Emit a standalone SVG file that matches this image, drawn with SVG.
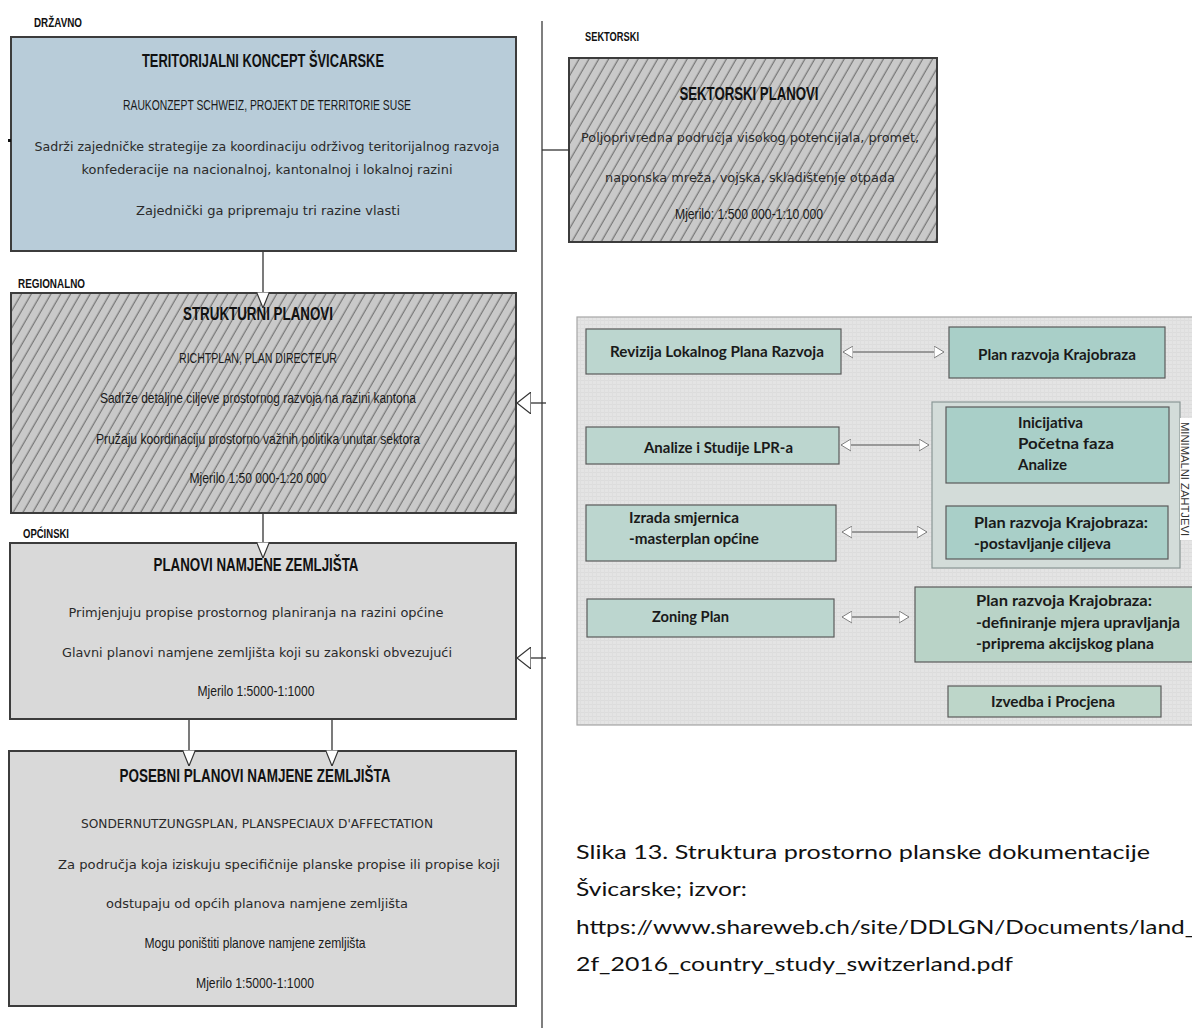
<svg xmlns="http://www.w3.org/2000/svg" width="1192" height="1033" viewBox="0 0 1192 1033">
<style>
.lvl{font-family:"Liberation Sans Narrow","Liberation Sans",sans-serif;font-weight:bold;font-size:12px;fill:#111}
.ttl{font-family:"Liberation Sans Narrow","Liberation Sans",sans-serif;font-weight:bold;font-size:18px;fill:#111;text-anchor:middle}
.cnd{font-family:"Liberation Sans Narrow","Liberation Sans",sans-serif;font-size:15px;fill:#1a1a1a;text-anchor:middle}
.rnd{font-family:"DejaVu Sans","Liberation Sans",sans-serif;font-size:13px;fill:#2a2a2a;text-anchor:middle}
.box{stroke:#3c3c3c;stroke-width:2}
.pbox{stroke:#5a5a5a;stroke-width:1.2}
.ptx{font-family:Lato,"Liberation Sans",sans-serif;font-weight:bold;font-size:15px;fill:#1a1a1a}
.cap{font-family:Lato,"Liberation Sans",sans-serif;font-size:20px;fill:#111}
.con{stroke:#333;stroke-width:1.3;fill:none}
.pcon{stroke:#808080;stroke-width:1.3;fill:none}
</style>
<defs>
<pattern id="hatch" width="8.5" height="8.5" patternUnits="userSpaceOnUse" patternTransform="rotate(30)">
<rect width="8.5" height="8.5" fill="#c9c9c9"/>
<line x1="4" y1="0" x2="4" y2="8.5" stroke="#555" stroke-width="0.9"/>
</pattern>
<pattern id="paneltex" width="4" height="4" patternUnits="userSpaceOnUse">
<rect width="4" height="4" fill="#e4e4e4"/>
<line x1="0" y1="0.5" x2="4" y2="0.5" stroke="#dcdcdc" stroke-width="1"/>
<line x1="0.5" y1="0" x2="0.5" y2="4" stroke="#dedede" stroke-width="1"/>
</pattern>
<marker id="down" viewBox="0 0 16 13" refX="16" refY="6.5" markerWidth="16" markerHeight="13" markerUnits="userSpaceOnUse" orient="auto">
<path d="M0,0 L16,6.5 L0,13 Z" fill="#fff" stroke="#333" stroke-width="1.2"/>
</marker>
<marker id="side" viewBox="0 0 14 22" refX="14" refY="11" markerWidth="14" markerHeight="22" markerUnits="userSpaceOnUse" orient="auto">
<path d="M0,0 L14,11 L0,22 Z" fill="#fff" stroke="#333" stroke-width="1.2"/>
</marker>
<marker id="pa" viewBox="0 0 10 13" refX="10" refY="6.5" markerWidth="10" markerHeight="13" markerUnits="userSpaceOnUse" orient="auto-start-reverse">
<path d="M0,0.5 L10,6.5 L0,12.5 Z" fill="#fff" stroke="#808080" stroke-width="1"/>
</marker>
</defs>
<rect width="1192" height="1033" fill="#fff"/>

<g id="level-labels">
<text class="lvl" x="34" y="27" textLength="48" lengthAdjust="spacingAndGlyphs">DRŽAVNO</text>
<text class="lvl" x="18" y="288" textLength="67" lengthAdjust="spacingAndGlyphs">REGIONALNO</text>
<text class="lvl" x="23" y="538" textLength="46" lengthAdjust="spacingAndGlyphs">OPĆINSKI</text>
<text class="lvl" x="585" y="41" textLength="54" lengthAdjust="spacingAndGlyphs">SEKTORSKI</text>
</g>

<g id="node-teritorijalni">
<rect class="box" x="11" y="37" width="505" height="214" fill="#b8ccd9"/>
<rect x="8" y="139" width="3" height="3" fill="#111"/>
<text class="ttl" x="263" y="67" textLength="242" lengthAdjust="spacingAndGlyphs">TERITORIJALNI KONCEPT ŠVICARSKE</text>
<text class="cnd" x="267" y="110" textLength="288" lengthAdjust="spacingAndGlyphs">RAUKONZEPT SCHWEIZ, PROJEKT DE TERRITORIE SUSE</text>
<text class="rnd" x="267" y="151" textLength="465" lengthAdjust="spacingAndGlyphs">Sadrži zajedničke strategije za koordinaciju održivog teritorijalnog razvoja</text>
<text class="rnd" x="267" y="174" textLength="371" lengthAdjust="spacingAndGlyphs">konfederacije na nacionalnoj, kantonalnoj i lokalnoj razini</text>
<text class="rnd" x="268" y="215" textLength="264" lengthAdjust="spacingAndGlyphs">Zajednički ga pripremaju tri razine vlasti</text>
</g>

<g id="node-sektorski">
<rect class="box" x="569" y="58" width="368" height="184" fill="url(#hatch)"/>
<text class="ttl" x="749" y="100" textLength="139" lengthAdjust="spacingAndGlyphs">SEKTORSKI PLANOVI</text>
<text class="rnd" x="750" y="142" textLength="338" lengthAdjust="spacingAndGlyphs">Poljoprivredna područja visokog potencijala, promet,</text>
<text class="rnd" x="750" y="182" textLength="290" lengthAdjust="spacingAndGlyphs">naponska mreža, vojska, skladištenje otpada</text>
<text class="cnd" x="749" y="219" textLength="148" lengthAdjust="spacingAndGlyphs">Mjerilo: 1:500 000-1:10 000</text>
</g>

<g id="node-strukturni">
<rect class="box" x="11" y="293" width="505" height="220" fill="url(#hatch)"/>
<text class="ttl" x="258" y="320" textLength="150" lengthAdjust="spacingAndGlyphs">STRUKTURNI PLANOVI</text>
<text class="cnd" x="258" y="363" textLength="158" lengthAdjust="spacingAndGlyphs">RICHTPLAN, PLAN DIRECTEUR</text>
<text class="cnd" x="258" y="403" textLength="316" lengthAdjust="spacingAndGlyphs">Sadrže detaljne ciljeve prostornog razvoja na razini kantona</text>
<text class="cnd" x="258" y="444" textLength="324" lengthAdjust="spacingAndGlyphs">Pružaju koordinaciju prostorno važnih politika unutar sektora</text>
<text class="cnd" x="258" y="483" textLength="137" lengthAdjust="spacingAndGlyphs">Mjerilo 1:50 000-1:20 000</text>
</g>

<g id="node-planovi-namjene">
<rect class="box" x="10" y="543" width="506" height="176" fill="#d9d9d9"/>
<text class="ttl" x="256" y="571" textLength="205" lengthAdjust="spacingAndGlyphs">PLANOVI NAMJENE ZEMLJIŠTA</text>
<text class="rnd" x="256" y="617" textLength="375" lengthAdjust="spacingAndGlyphs">Primjenjuju propise prostornog planiranja na razini općine</text>
<text class="rnd" x="257" y="657" textLength="390" lengthAdjust="spacingAndGlyphs">Glavni planovi namjene zemljišta koji su zakonski obvezujući</text>
<text class="cnd" x="256" y="696" textLength="117" lengthAdjust="spacingAndGlyphs">Mjerilo 1:5000-1:1000</text>
</g>

<g id="node-posebni">
<rect class="box" x="9" y="751" width="507" height="255" fill="#d9d9d9"/>
<text class="ttl" x="255" y="782" textLength="271" lengthAdjust="spacingAndGlyphs">POSEBNI PLANOVI NAMJENE ZEMLJIŠTA</text>
<text class="rnd" x="257" y="828" textLength="352" lengthAdjust="spacingAndGlyphs">SONDERNUTZUNGSPLAN, PLANSPECIAUX D'AFFECTATION</text>
<text class="rnd" x="279" y="869" textLength="442" lengthAdjust="spacingAndGlyphs">Za područja koja iziskuju specifičnije planske propise ili propise koji</text>
<text class="rnd" x="257" y="908" textLength="302" lengthAdjust="spacingAndGlyphs">odstupaju od općih planova namjene zemljišta</text>
<text class="cnd" x="255" y="948" textLength="221" lengthAdjust="spacingAndGlyphs">Mogu poništiti planove namjene zemljišta</text>
<text class="cnd" x="255" y="988" textLength="118" lengthAdjust="spacingAndGlyphs">Mjerilo 1:5000-1:1000</text>
</g>

<g id="connectors">
<line x1="542" y1="21" x2="542" y2="1028" stroke="#555" stroke-width="1.5"/>
<line class="con" x1="263" y1="252" x2="263" y2="308" marker-end="url(#down)"/>
<line class="con" x1="263" y1="514" x2="263" y2="558" marker-end="url(#down)"/>
<line class="con" x1="189" y1="720" x2="189" y2="766" marker-end="url(#down)"/>
<line class="con" x1="332" y1="720" x2="332" y2="766" marker-end="url(#down)"/>
<line class="con" x1="546" y1="403" x2="517" y2="403" marker-end="url(#side)"/>
<line class="con" x1="546" y1="658" x2="517" y2="658" marker-end="url(#side)"/>
<line class="con" x1="542" y1="150" x2="569" y2="150"/>
</g>

<g id="panel">
<rect x="577" y="317" width="630" height="408" fill="url(#paneltex)" stroke="#a6a6a6" stroke-width="1.2"/>
<g id="container-minimalni">
<rect x="932" y="402" width="248" height="166" fill="#d3dcd9" stroke="#8a9795" stroke-width="1.2"/>
<rect x="1180" y="418" width="12" height="122" fill="#fff"/>
<text transform="translate(1181,422) rotate(90)" font-family="Liberation Sans, sans-serif" font-size="11" fill="#333" textLength="114" lengthAdjust="spacingAndGlyphs">MINIMALNI ZAHTJEVI</text>
</g>
<g id="p-revizija">
<rect class="pbox" x="586" y="329" width="255" height="45" fill="#bcd6cf"/>
<text class="ptx" x="610" y="357" textLength="214" lengthAdjust="spacingAndGlyphs">Revizija Lokalnog Plana Razvoja</text>
</g>
<g id="p-plan-razvoja">
<rect class="pbox" x="949" y="327" width="216" height="51" fill="#a9cfc8"/>
<text class="ptx" x="978" y="360" textLength="158" lengthAdjust="spacingAndGlyphs">Plan razvoja Krajobraza</text>
</g>
<g id="p-analize">
<rect class="pbox" x="586" y="427" width="253" height="37" fill="#bcd6cf"/>
<text class="ptx" x="644" y="453" textLength="149" lengthAdjust="spacingAndGlyphs">Analize i Studije LPR-a</text>
</g>
<g id="p-inicijativa">
<rect class="pbox" x="946" y="407" width="223" height="76" fill="#a9cfc8"/>
<text class="ptx" x="1018" y="428" textLength="65" lengthAdjust="spacingAndGlyphs">Inicijativa</text>
<text class="ptx" x="1018" y="449" textLength="96" lengthAdjust="spacingAndGlyphs">Početna faza</text>
<text class="ptx" x="1018" y="470" textLength="49" lengthAdjust="spacingAndGlyphs">Analize</text>
</g>
<g id="p-izrada">
<rect class="pbox" x="586" y="505" width="250" height="56" fill="#bcd6cf"/>
<text class="ptx" x="629" y="523" textLength="110" lengthAdjust="spacingAndGlyphs">Izrada smjernica</text>
<text class="ptx" x="629" y="544" textLength="130" lengthAdjust="spacingAndGlyphs">-masterplan općine</text>
</g>
<g id="p-ciljevi">
<rect class="pbox" x="946" y="506" width="222" height="53" fill="#a9cfc8"/>
<text class="ptx" x="974" y="528" textLength="174" lengthAdjust="spacingAndGlyphs">Plan razvoja Krajobraza:</text>
<text class="ptx" x="974" y="549" textLength="137" lengthAdjust="spacingAndGlyphs">-postavljanje ciljeva</text>
</g>
<g id="p-zoning">
<rect class="pbox" x="587" y="599" width="247" height="38" fill="#bcd6cf"/>
<text class="ptx" x="652" y="622" textLength="77" lengthAdjust="spacingAndGlyphs">Zoning Plan</text>
</g>
<g id="p-mjere">
<rect class="pbox" x="915" y="587" width="280" height="75" fill="#b9d3c7"/>
<text class="ptx" x="976" y="606" textLength="176" lengthAdjust="spacingAndGlyphs">Plan razvoja Krajobraza:</text>
<text class="ptx" x="976" y="628" textLength="204" lengthAdjust="spacingAndGlyphs">-definiranje mjera upravljanja</text>
<text class="ptx" x="976" y="649" textLength="178" lengthAdjust="spacingAndGlyphs">-priprema akcijskog plana</text>
</g>
<g id="p-izvedba">
<rect class="pbox" x="948" y="686" width="213" height="31" fill="#bdd6c9"/>
<text class="ptx" x="991" y="707" textLength="124" lengthAdjust="spacingAndGlyphs">Izvedba i Procjena</text>
</g>
<g id="panel-connectors">
<line class="pcon" x1="843" y1="352" x2="944" y2="352" marker-start="url(#pa)" marker-end="url(#pa)"/>
<line class="pcon" x1="841" y1="445" x2="929" y2="445" marker-start="url(#pa)" marker-end="url(#pa)"/>
<line class="pcon" x1="842" y1="532" x2="927" y2="532" marker-start="url(#pa)" marker-end="url(#pa)"/>
<line class="pcon" x1="842" y1="617" x2="909" y2="617" marker-start="url(#pa)" marker-end="url(#pa)"/>
</g>
</g>

<g id="caption">
<text class="cap" x="576" y="859" textLength="574" lengthAdjust="spacingAndGlyphs">Slika 13.  Struktura prostorno planske dokumentacije</text>
<text class="cap" x="576" y="896" textLength="171" lengthAdjust="spacingAndGlyphs">Švicarske; izvor:</text>
<text class="cap" x="576" y="934" textLength="620" lengthAdjust="spacingAndGlyphs">https://www.shareweb.ch/site/DDLGN/Documents/land_</text>
<text class="cap" x="576" y="971" textLength="437" lengthAdjust="spacingAndGlyphs">2f_2016_country_study_switzerland.pdf</text>
</g>
</svg>
